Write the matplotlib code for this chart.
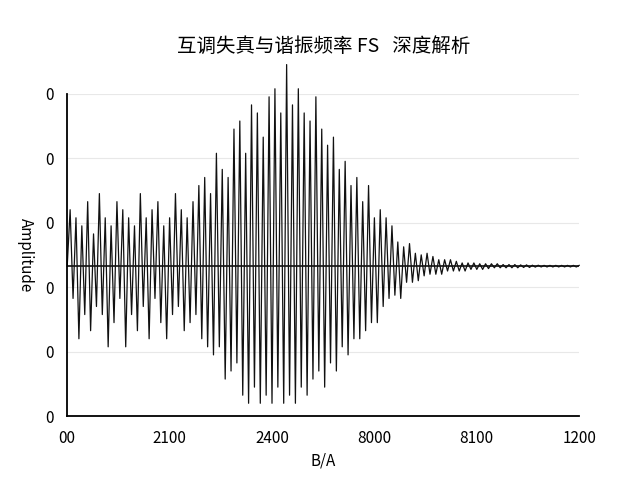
import matplotlib
matplotlib.use("Agg")
import matplotlib.pyplot as plt
import numpy as np

plt.rcParams["font.family"] = ["Noto Sans CJK SC", "DejaVu Sans"]

title = "互调失真与谐振频率 FS   深度解析"
x_tick_labels = ["00", "2100", "2400", "8000", "8100", "1200"]
y_tick_labels = ["0", "0", "0", "0", "0", "0"]

signal = [
    0.0, 0.35, -0.2, 0.3, -0.45, 0.25, -0.3, 0.4, -0.4, 0.2, -0.25, 0.45, -0.3, 0.3, -0.5, 0.25,
    -0.35, 0.4, -0.2, 0.35, -0.5, 0.3, -0.3, 0.25, -0.4, 0.45, -0.25, 0.3, -0.45, 0.35, -0.2, 0.4,
    -0.35, 0.25, -0.45, 0.3, -0.3, 0.45, -0.25, 0.35, -0.4, 0.3, -0.35, 0.4, -0.3, 0.5, -0.45, 0.55,
    -0.5, 0.45, -0.55, 0.7, -0.5, 0.6, -0.7, 0.55, -0.65, 0.85, -0.6, 0.9, -0.8, 0.7, -0.85, 1.0,
    -0.75, 0.95, -0.85, 0.8, -0.8, 1.05, -0.85, 1.1, -0.75, 0.95, -0.85, 1.25, -0.8, 1.0, -0.85, 1.1,
    -0.75, 0.95, -0.8, 0.9, -0.7, 1.05, -0.65, 0.85, -0.75, 0.75, -0.6, 0.8, -0.65, 0.6, -0.5, 0.65,
    -0.55, 0.5, -0.45, 0.55, -0.45, 0.4, -0.4, 0.5, -0.35, 0.3, -0.35, 0.35, -0.25, 0.3, -0.2, 0.25,
    -0.18, 0.15, -0.2, 0.12, -0.1, 0.14, -0.1, 0.08, -0.09, 0.07, -0.06, 0.08, -0.05, 0.06, -0.05, 0.04,
    -0.05, 0.04, -0.03, 0.04, -0.03, 0.03, -0.03, 0.02, -0.03, 0.02, -0.02, 0.02, -0.02, 0.015, -0.02, 0.015,
    -0.015, 0.015, -0.01, 0.015, -0.01, 0.01, -0.01, 0.01, -0.01, 0.01, -0.01, 0.008, -0.008, 0.008, -0.008, 0.006,
    -0.006, 0.006, -0.005, 0.005, -0.005, 0.005, -0.005, 0.005, -0.005, 0.005, -0.005, 0.005, -0.005, 0.005, -0.005, 0.005,
]
time = np.linspace(0, 1000, len(signal))

fig, ax = plt.subplots(figsize=(6.4, 4.8), dpi=100)
fig.subplots_adjust(left=0.105, right=0.905, top=0.805, bottom=0.133)

ax.plot(time, signal, color="#111111", linewidth=0.9, clip_on=False)
ax.axhline(0, color="#111111", linewidth=1.2)

ax.set_xlim(0, 1000)
ax.set_ylim(-0.93, 1.07)
ax.set_xticks(np.linspace(0, 1000, 6))
ax.set_xticklabels(x_tick_labels, fontsize=11)
ax.set_yticks(np.linspace(-0.93, 1.07, 6))
ax.set_yticklabels(y_tick_labels, fontsize=11)
ax.tick_params(length=0, pad=10)
ax.grid(axis="y", color="#e8e8e8", linewidth=0.8)
ax.spines["top"].set_visible(False)
ax.spines["right"].set_visible(False)
ax.spines["left"].set_linewidth(1.3)
ax.spines["bottom"].set_linewidth(1.3)

ax.set_title(title, fontsize=14, pad=30)
ax.set_xlabel("B/A", fontsize=11)
ax.set_ylabel("Amplitude", fontsize=11, rotation=270, labelpad=20)

fig.savefig("out.png", dpi=100)
